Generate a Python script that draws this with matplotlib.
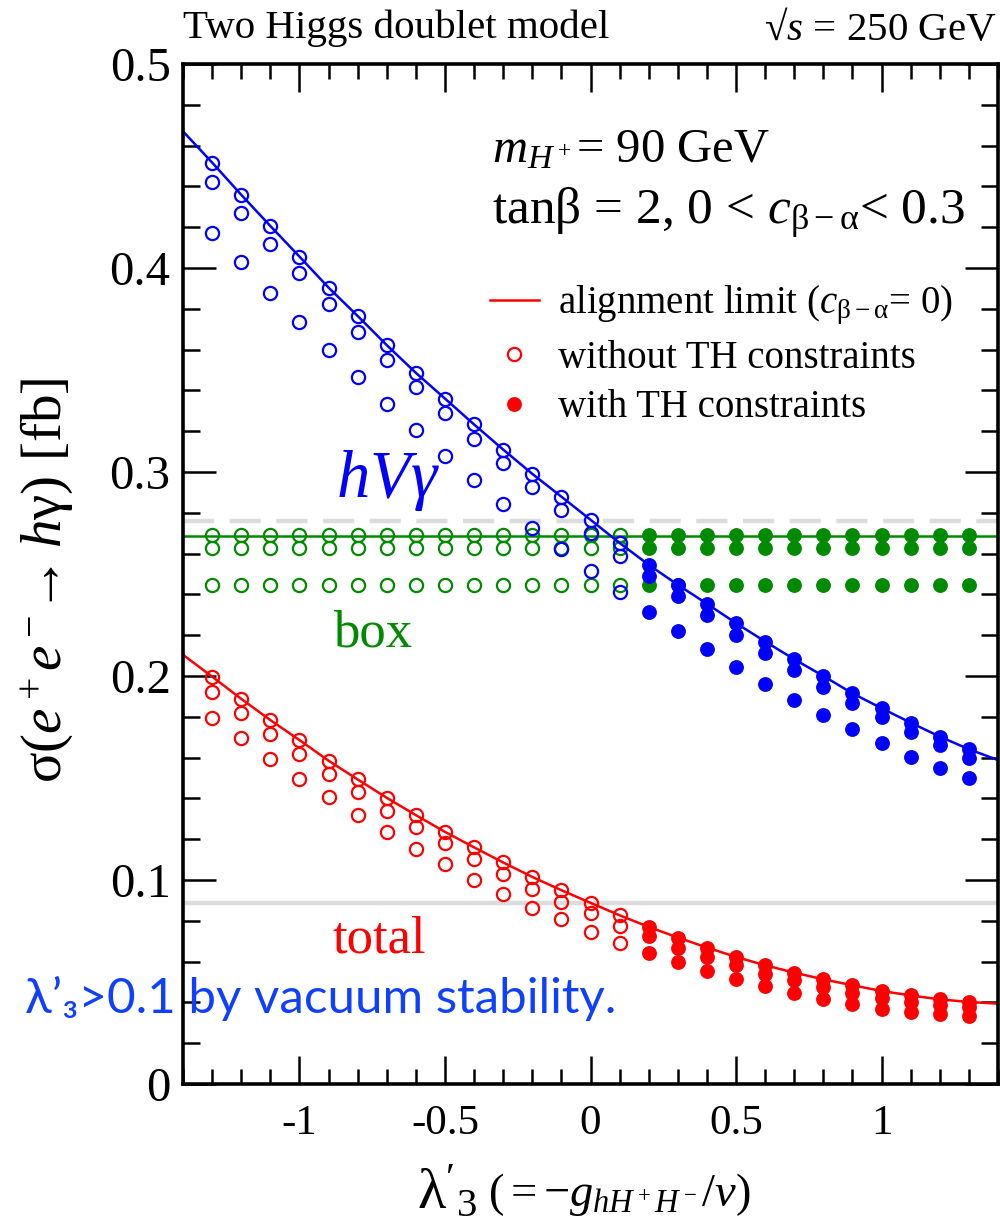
import matplotlib
matplotlib.use("Agg")
import matplotlib.pyplot as plt
from matplotlib.lines import Line2D
from matplotlib.ticker import MultipleLocator, FixedLocator, FixedFormatter

# ---- data -------------------------------------------------------------
# lambda'_3 scan points
lam = [-1.3, -1.2, -1.1, -1.0, -0.9, -0.8, -0.7, -0.6, -0.5, -0.4, -0.3, -0.2, -0.1,
       0.0, 0.1, 0.2, 0.3, 0.4, 0.5, 0.6, 0.7, 0.8, 0.9, 1.0, 1.1, 1.2, 1.3]
# points with lambda'_3 above this value survive the theoretical constraints
lam_th_min = 0.15

# hV gamma contribution [fb], three c_{beta-alpha} values (upper, middle, lower)
hvg_up = [0.4517, 0.4359, 0.4206, 0.4056, 0.3904, 0.3765, 0.3622, 0.3486, 0.3360,
          0.3233, 0.3110, 0.2991, 0.2879, 0.2766, 0.2652, 0.2545, 0.2447, 0.2354,
          0.2259, 0.2169, 0.2082, 0.2000, 0.1915, 0.1842, 0.1771, 0.1703, 0.1641]
hvg_mid = [0.4424, 0.4269, 0.4116, 0.3974, 0.3822, 0.3688, 0.3548, 0.3416, 0.3290,
           0.3162, 0.3045, 0.2925, 0.2816, 0.2701, 0.2586, 0.2488, 0.2390, 0.2297,
           0.2202, 0.2115, 0.2027, 0.1948, 0.1869, 0.1798, 0.1727, 0.1662, 0.1597]
hvg_low = [0.4174, 0.4030, 0.3879, 0.3735, 0.3596, 0.3465, 0.3331, 0.3208, 0.3077,
           0.2959, 0.2845, 0.2726, 0.2625, 0.2517, 0.2414, 0.2316, 0.2223, 0.2132,
           0.2043, 0.1961, 0.1883, 0.1809, 0.1739, 0.1670, 0.1604, 0.1547, 0.1498]

# total cross section [fb]
tot_up = [0.1997, 0.1888, 0.1784, 0.1686, 0.1585, 0.1493, 0.1403, 0.1318, 0.1236,
          0.1160, 0.1086, 0.1015, 0.0950, 0.0888, 0.0827, 0.0770, 0.0718, 0.0669,
          0.0623, 0.0582, 0.0546, 0.0513, 0.0484, 0.0456, 0.0434, 0.0415, 0.0402]
tot_mid = [0.1923, 0.1817, 0.1716, 0.1616, 0.1519, 0.1430, 0.1339, 0.1258, 0.1179,
           0.1102, 0.1028, 0.0958, 0.0893, 0.0836, 0.0775, 0.0724, 0.0669, 0.0623,
           0.0582, 0.0541, 0.0508, 0.0475, 0.0448, 0.0423, 0.0402, 0.0385, 0.0377]
tot_low = [0.1793, 0.1695, 0.1592, 0.1496, 0.1405, 0.1318, 0.1233, 0.1153, 0.1076,
           0.1002, 0.0930, 0.0865, 0.0808, 0.0745, 0.0693, 0.0642, 0.0598, 0.0554,
           0.0513, 0.0479, 0.0446, 0.0418, 0.0394, 0.0369, 0.0352, 0.0341, 0.0331]

# box contribution [fb] is independent of lambda'_3
box_levels = [0.2693, 0.2627, 0.2444]

# alignment-limit curves
lam_curve = [-1.4] + lam + [1.4]
hvg_curve = [0.4670] + hvg_up + [0.1588]
tot_curve = [0.2104] + tot_up + [0.0394]
box_curve = 0.2688

# grey reference levels
ref_dashed = 0.2758
ref_solid = 0.0885

# ---- style ------------------------------------------------------------
plt.rcParams["font.family"] = ["Liberation Serif", "DejaVu Serif"]
plt.rcParams["mathtext.fontset"] = "custom"
plt.rcParams["mathtext.rm"] = "Liberation Serif"
plt.rcParams["mathtext.it"] = "Liberation Serif:italic"
plt.rcParams["mathtext.bf"] = "Liberation Serif:bold"
plt.rcParams["axes.unicode_minus"] = False

BLUE = "#0000ff"
GREEN = "#008a00"
RED = "#ff0000"
GREY = "#dcdcdc"

W, H = 1000, 1231
fig = plt.figure(figsize=(W / 100, H / 100), dpi=100)
x0, x1, y_top, y_bot = 183, 998, 64, 1084
ax = fig.add_axes([x0 / W, 1 - y_bot / H, (x1 - x0) / W, (y_bot - y_top) / H])

ax.set_xlim(-1.4, 1.4)
ax.set_ylim(0, 0.5)

ax.axhline(ref_dashed, color=GREY, lw=3.2, ls=(0, (7, 3.5)), zorder=1)
ax.axhline(ref_solid, color=GREY, lw=3.2, zorder=1)

ms = 9.5
mew = 1.6


def scatter_rows(rows, color):
    for row in rows:
        xo = [x for x in lam if x < lam_th_min]
        yo = [y for x, y in zip(lam, row) if x < lam_th_min]
        xf = [x for x in lam if x >= lam_th_min]
        yf = [y for x, y in zip(lam, row) if x >= lam_th_min]
        ax.plot(xo, yo, ls="none", marker="o", ms=ms, mfc="none", mec=color,
                mew=mew, zorder=3)
        ax.plot(xf, yf, ls="none", marker="o", ms=ms + 1.2, mfc=color, mec=color,
                mew=0, zorder=3)


# box
ax.axhline(box_curve, color=GREEN, lw=1.8, zorder=2)
scatter_rows([[lv] * len(lam) for lv in box_levels], GREEN)
# total
ax.plot(lam_curve, tot_curve, color=RED, lw=1.8, zorder=2)
scatter_rows([tot_up, tot_mid, tot_low], RED)
# hV gamma
ax.plot(lam_curve, hvg_curve, color=BLUE, lw=1.8, zorder=4)
scatter_rows([hvg_up, hvg_mid, hvg_low], BLUE)

# ---- axes -------------------------------------------------------------
for sp in ax.spines.values():
    sp.set_linewidth(2.6)
    sp.set_zorder(6)

ax.xaxis.set_major_locator(FixedLocator([-1, -0.5, 0, 0.5, 1]))
ax.xaxis.set_major_formatter(FixedFormatter(["-1", "-0.5", "0", "0.5", "1"]))
ax.xaxis.set_minor_locator(MultipleLocator(0.1))
ax.yaxis.set_major_locator(FixedLocator([0, 0.1, 0.2, 0.3, 0.4, 0.5]))
ax.yaxis.set_major_formatter(FixedFormatter(["0", "0.1", "0.2", "0.3", "0.4", "0.5"]))
ax.yaxis.set_minor_locator(MultipleLocator(0.02))

ax.tick_params(axis="x", which="both", direction="in", top=True, bottom=True,
               width=1.8, labelsize=31, pad=15)
ax.tick_params(axis="x", which="major", length=20)
ax.tick_params(axis="x", which="minor", length=11)
ax.tick_params(axis="y", which="both", direction="in", left=True, right=True,
               width=1.8, labelsize=35, pad=9)
ax.tick_params(axis="y", which="major", length=24)
ax.tick_params(axis="y", which="minor", length=12.5)

fig.text(18 / W, 1 - 580 / H, r"σ($e^+e^-\!\!\rightarrow h\mathrm{\gamma}$) [fb]",
         rotation=90, fontsize=41, ha="left", va="center")
fig.text(477 / W, 1 - 1192 / H, r"$\mathrm{\lambda}'_3$", fontsize=42,
         ha="right", va="center")
fig.text(488 / W, 1 - 1195 / H, r"$(= -g_{hH^+H^-}/v)$", fontsize=33.5,
         ha="left", va="center")

# ---- annotations ------------------------------------------------------
fig.text(183 / W, 1 - 28 / H, "Two Higgs doublet model", fontsize=29.5,
         ha="left", va="center")
fig.text(997 / W, 1 - 30 / H, "√$s$ = 250 GeV", fontsize=29.5,
         ha="right", va="center")
fig.text(492 / W, 1 - 150 / H, r"$m_{H^+}$= 90 GeV", fontsize=35,
         ha="left", va="center")
fig.text(492 / W, 1 - 213 / H, r"tanβ = 2, 0 < $c_{\mathrm{\beta-\alpha}}$< 0.3",
         fontsize=37, ha="left", va="center")

handles = [
    Line2D([], [], color=RED, lw=1.8),
    Line2D([], [], ls="none", marker="o", ms=ms, mfc="none", mec=RED, mew=mew),
    Line2D([], [], ls="none", marker="o", ms=ms + 1.2, mfc=RED, mec=RED, mew=0),
]
labels = [r"alignment limit ($c_{\mathrm{\beta-\alpha}}$= 0)",
          "without TH constraints", "with TH constraints"]
fig.legend(handles, labels, loc="upper left", bbox_to_anchor=(490 / W, 1 - 284 / H),
           frameon=False, fontsize=28, handlelength=1.25, handletextpad=0.5,
           labelspacing=0.32, borderpad=0, borderaxespad=0)

ax.text(-0.695, 0.296, r"$hV\gamma$", color=BLUE, fontsize=48,
        ha="center", va="center")
ax.text(-0.75, 0.221, "box", color=GREEN, fontsize=38, ha="center", va="center")
ax.text(-0.725, 0.071, "total", color=RED, fontsize=38, ha="center", va="center")

fig.text(25 / W, 1 - 998 / H, "λ’₃>0.1 by vacuum stability.",
         color="#1040ff", fontsize=35.5, family=["Lato", "DejaVu Sans"],
         ha="left", va="center")

fig.savefig("out.png", dpi=100)
